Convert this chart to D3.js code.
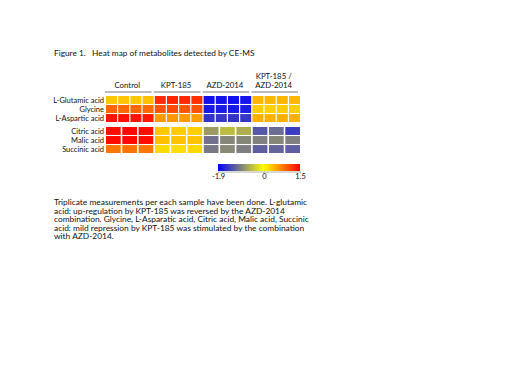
<!DOCTYPE html>
<html>
<head>
<meta charset="utf-8">
<script src="https://cdn.jsdelivr.net/npm/d3@7"></script>
<style>
  body { margin: 0; background: #fff; }
  svg { display: block; font-family: Lato, 'Open Sans', sans-serif; }
</style>
</head>
<body>
<div id="chart"></div>
<script>
// sample groups and metabolites
const groups = ['Control', 'KPT-185', 'AZD-2014', 'KPT-185 / AZD-2014'];
const topMetabolites = ['L-Glutamic acid', 'Glycine', 'L-Aspartic acid'];
const bottomMetabolites = ['Citric acid', 'Malic acid', 'Succinic acid'];

// top block: 4 replicates per group (Control, KPT-185, AZD-2014, combination)
const glutamic = [0.33, 0.35, 0.33, 0.37, 1.25, 1.28, 1.25, 1.22, -1.78, -1.76, -1.78, -1.75, 0.43, 0.42, 0.44, 0.42];
const glycine = [0.9, 0.88, 0.9, 0.88, 1.02, 1.05, 1.0, 1.02, -1.72, -1.7, -1.72, -1.7, 0.3, 0.28, 0.3, 0.29];
const aspartic = [1.38, 1.4, 1.38, 1.36, 0.6, 0.62, 0.6, 0.58, -1.52, -1.5, -1.52, -1.5, 0.47, 0.46, 0.47, 0.46];

// bottom block: 3 replicates per group
const citric = [1.42, 1.45, 1.42, 0.33, 0.3, 0.28, -0.75, -0.5, -0.6, -1.25, -1.1, -1.45];
const malic = [1.45, 1.45, 1.42, 0.37, 0.36, 0.35, -1.05, -0.9, -0.9, -0.95, -0.9, -0.95];
const succinic = [0.8, 0.82, 0.8, 0.22, 0.2, 0.22, -1.0, -0.88, -0.97, -1.2, -1.15, -1.2];

const legendTicks = [-1.9, 0, 1.5];

const titleText = 'Figure 1.\u00a0\u00a0\u00a0Heat map of metabolites detected by CE-MS';
const noteLines = [
  'Triplicate measurements per each sample have been done.  L-glutamic',
  'acid: up-regulation by KPT-185 was reversed by the AZD-2014',
  'combination.  Glycine, L-Asparatic acid, Citric acid, Malic acid, Succinic',
  'acid: mild repression by KPT-185 was stimulated by the combination',
  'with AZD-2014.'
];

const topValues = [glutamic, glycine, aspartic];
const bottomValues = [citric, malic, succinic];

const W = 520, H = 390;
const ink = '#111';
const svg = d3.select('#chart').append('svg')
  .attr('width', W).attr('height', H);

const color = d3.scaleLinear()
  .domain([-1.9, 0, 1.5])
  .range(['#0000ff', '#ffff00', '#ff0000'])
  .interpolate(d3.interpolateRgb)
  .clamp(true);

const x0 = 106, x1 = 300;

svg.append('text')
  .attr('x', 54).attr('y', 56)
  .attr('font-size', 8.3).attr('fill', ink)
  .text(titleText);

function drawBlock(names, values, reps, y0, y1) {
  const cols = d3.range(groups.length * reps);
  const xs = d3.scaleBand().domain(cols).range([x0, x1]).paddingInner(0.1);
  const ys = d3.scaleBand().domain(names).range([y0, y1]).paddingInner(0.12);

  const g = svg.append('g');
  const cells = [];
  names.forEach((n, r) => values[r].forEach((v, c) => cells.push({ n, c, v })));

  g.selectAll('rect')
    .data(cells)
    .enter().append('rect')
    .attr('x', d => xs(d.c))
    .attr('y', d => ys(d.n))
    .attr('width', xs.bandwidth())
    .attr('height', ys.bandwidth())
    .attr('fill', d => color(d.v));

  g.selectAll('text.row')
    .data(names)
    .enter().append('text')
    .attr('class', 'row')
    .attr('x', x0 - 2)
    .attr('y', d => ys(d) + ys.bandwidth() / 2)
    .attr('dy', '0.35em')
    .attr('text-anchor', 'end')
    .attr('font-size', 7.5)
    .attr('fill', ink)
    .text(d => d);

  return xs;
}

const topX = drawBlock(topMetabolites, topValues, 4, 96, 122);
drawBlock(bottomMetabolites, bottomValues, 3, 127, 153);

// group headers
const head = svg.append('g');
groups.forEach((gname, i) => {
  const a = topX(i * 4) - 1;
  const b = topX(i * 4 + 3) + topX.bandwidth() - 2;
  head.append('line')
    .attr('x1', a).attr('x2', b)
    .attr('y1', 92).attr('y2', 92)
    .attr('stroke', '#a6a6a6').attr('stroke-width', 1.4);
  const parts = gname.includes(' / ') ? [gname.split(' / ')[0] + ' /', gname.split(' / ')[1]] : [gname];
  parts.forEach((p, k) => {
    head.append('text')
      .attr('x', (a + b) / 2 - 1)
      .attr('y', 88 - (parts.length - 1 - k) * 9.5)
      .attr('text-anchor', 'middle')
      .attr('font-size', 7.8)
      .attr('fill', ink)
      .text(p);
  });
});

// colour legend
const lx = d3.scaleLinear().domain(d3.extent(legendTicks)).range([218, 300]);
const grad = svg.append('defs').append('linearGradient')
  .attr('id', 'lg').attr('x1', '0%').attr('x2', '100%');
d3.range(0, 1.0001, 0.05).forEach(t => {
  const v = lx.invert(218 + t * 82);
  grad.append('stop').attr('offset', (t * 100) + '%').attr('stop-color', color(v));
});
svg.append('rect')
  .attr('x', 218).attr('y', 164).attr('width', 82).attr('height', 7)
  .attr('fill', 'url(#lg)');

const ax = svg.append('g')
  .attr('transform', 'translate(0,171.5)')
  .call(d3.axisBottom(lx).tickValues(legendTicks).tickSize(2).tickSizeOuter(0).tickFormat(d => String(d)));
ax.select('.domain').attr('stroke', '#b0b0b0');
ax.selectAll('.tick line').attr('stroke', '#b0b0b0');
ax.selectAll('.tick text')
  .attr('font-family', 'Lato, sans-serif')
  .attr('font-size', 7.5).attr('fill', ink).attr('y', 2.5);

// caption
svg.append('g').selectAll('text')
  .data(noteLines)
  .enter().append('text')
  .attr('x', 54)
  .attr('y', (d, i) => 205 + i * 8.5)
  .attr('font-size', 8.4)
  .attr('fill', ink)
  .text(d => d);
</script>
</body>
</html>
